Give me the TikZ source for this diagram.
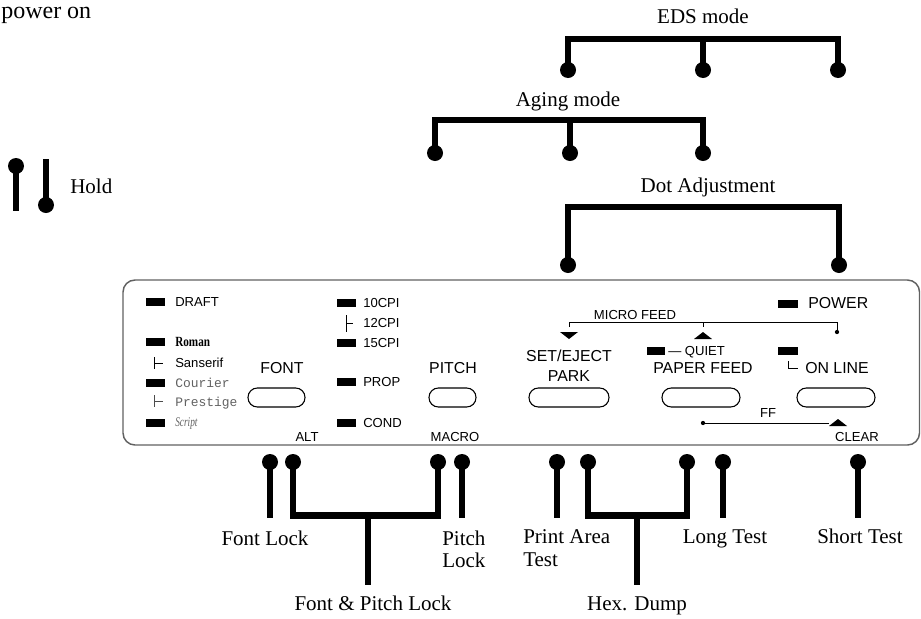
\documentclass[tikz,border=0pt]{standalone}
\usepackage{fontspec}
\setmainfont{Liberation Serif}
\setsansfont{Liberation Sans}
\setmonofont{Liberation Mono}
\newfontfamily\romanface[FakeStretch=0.8]{Liberation Serif}
\newfontfamily\scriptface[FakeStretch=0.7]{Liberation Serif}
\begin{document}
\begin{tikzpicture}[x=0.75pt,y=-0.75pt,
  bar/.style={line width=5pt, line join=miter},
  ball/.style={fill=black},
  lbl/.style={font=\fontsize{15.75}{19}\selectfont, inner sep=0pt},
  pnl/.style={font=\sffamily\fontsize{9.8}{11}\selectfont, inner sep=0pt, text height=.72em, text depth=0pt},
  big/.style={font=\sffamily\fontsize{11.9}{14}\selectfont, inner sep=0pt, text height=.72em, text depth=0pt},
  faded/.style={text=black!62},
  led/.style={fill=black},
  btn/.style={draw, line width=0.8pt, rounded corners=7pt},
  fine/.style={line width=0.7pt},
  panelframe/.style={draw=black!62, line width=1.1pt, rounded corners=9pt}]
\useasboundingbox (0,0) rectangle (921,618);

% ---------- title and legend ----------
\node[lbl, font=\fontsize{18}{22}\selectfont, anchor=base west] (pwr) at (1,18) {power on};
\coordinate (h1) at (16,166);
\coordinate (h1e) at (16,211);
\coordinate (h2) at (46,205);
\coordinate (h2e) at (46,159);
\draw[bar] (h1) -- (h1e);
\fill[ball] (h1) circle[radius=6pt];
\draw[bar] (h2) -- (h2e);
\fill[ball] (h2) circle[radius=6pt];
\node[lbl, anchor=base west] (hold) at (70,193) {Hold};

% ---------- EDS mode ----------
\node[lbl, anchor=base] (eds) at (703,23) {EDS mode};
\coordinate (e1) at (568,70);
\coordinate (e2) at (703,70);
\coordinate (e3) at (838,70);
\draw[bar] (e1) -- (568,39) -- (838,39) -- (e3);
\draw[bar] (703,39) -- (e2);
\foreach \p in {e1,e2,e3} \fill[ball] (\p) circle[radius=6pt];

% ---------- Aging mode ----------
\node[lbl, anchor=base] (aging) at (568,106) {Aging mode};
\coordinate (a1) at (435,153);
\coordinate (a2) at (570,153);
\coordinate (a3) at (703,153);
\draw[bar] (a1) -- (435,120) -- (703,120) -- (a3);
\draw[bar] (570,120) -- (a2);
\foreach \p in {a1,a2,a3} \fill[ball] (\p) circle[radius=6pt];

% ---------- Dot adjustment ----------
\node[lbl, anchor=base] (dotadj) at (708,192) {Dot Adjustment};
\coordinate (d1) at (568,265);
\coordinate (d2) at (839,265);
\draw[bar] (d1) -- (568,207) -- (839,207) -- (d2);
\foreach \p in {d1,d2} \fill[ball] (\p) circle[radius=6pt];

% ---------- control panel ----------
\draw[panelframe] (123,280) rectangle (919.5,445);

% font column
\fill[led] (146,298) rectangle (165,306);
\node[pnl, anchor=west] (draft) at (175,302) {DRAFT};
\fill[led] (146,338) rectangle (165,346);
\node[pnl, font=\romanface\bfseries\fontsize{10.5}{12}\selectfont, anchor=west] (roman) at (175,342) {Roman};
\draw[fine] (154,357) -- (154,369) (154,363) -- (163,363);
\node[pnl, anchor=west] (sans) at (175,363) {Sanserif};
\fill[led] (146,379) rectangle (165,387);
\node[pnl, faded, font=\ttfamily\fontsize{9.7}{11}\selectfont, anchor=west] (courier) at (175,383) {Courier};
\draw[fine, draw=black!70] (154,395) -- (154,407) (154,401) -- (163,401);
\node[pnl, faded, font=\ttfamily\fontsize{9.7}{11}\selectfont, anchor=west] (prestige) at (175,402) {Prestige};
\fill[led] (146,418.5) rectangle (165,426.5);
\node[pnl, faded, font=\scriptface\itshape\fontsize{10}{11}\selectfont, anchor=west] (script) at (175,422) {Script};

\node[big] (font) at (282,369) {FONT};
\draw[btn] (248,388) rectangle (305,407);
\node[pnl] (alt) at (307,437) {ALT};

% pitch column
\fill[led] (337,299) rectangle (356,307);
\node[pnl, anchor=west] (c10) at (363,303) {10CPI};
\draw[fine] (346,315) -- (346,332) (346,323) -- (353,323);
\node[pnl, anchor=west] (c12) at (363,323) {12CPI};
\fill[led] (337,339) rectangle (356,347);
\node[pnl, anchor=west] (c15) at (363,343) {15CPI};
\fill[led] (337,378) rectangle (356,386);
\node[pnl, anchor=west] (prop) at (363,382) {PROP};
\fill[led] (337,418.5) rectangle (356,426.5);
\node[pnl, anchor=west] (cond) at (363,423) {COND};

\node[big] (pitch) at (453,369) {PITCH};
\draw[btn] (429,388) rectangle (476,407);
\node[pnl] (macro) at (455,437) {MACRO};

% set/eject
\node[big] (setej) at (569,357) {SET/EJECT};
\node[big] (park) at (569,377) {PARK};
\draw[btn] (529,388) rectangle (609,407);

% micro feed bracket
\node[pnl] (micro) at (635,315) {MICRO FEED};
\coordinate (mfl) at (569,327);
\coordinate (mfm) at (703,327);
\coordinate (mfr) at (837,332);
\draw[fine] (mfl) -- (569,322) -- (837,322) -- (mfr);
\draw[fine] (703,322) -- (mfm);
\fill (mfr) circle[radius=1.6pt];
\fill (560,332) -- (578,332) -- (569,339) -- cycle;
\fill (694,339) -- (712,339) -- (703,332) -- cycle;

% paper feed
\fill[led] (647,347) rectangle (665,355);
\node[pnl, anchor=west] (quiet) at (668,351) {— QUIET};
\node[big] (pfeed) at (703,369) {PAPER FEED};
\draw[btn] (662,388) rectangle (740,407);

% power / on line
\fill[led] (778,299.5) rectangle (798,307.5);
\node[big, anchor=west] (power) at (808,304) {POWER};
\fill[led] (778,347) rectangle (798,355);
\draw[fine] (788,361) -- (788,368) -- (798,368);
\node[big, anchor=west] (online) at (805,369) {ON LINE};
\draw[btn] (797,388) rectangle (875,407);

% form feed / clear
\node[pnl] (ff) at (768,413) {FF};
\coordinate (ffl) at (703,423);
\coordinate (ffr) at (829,423);
\fill (ffl) circle[radius=1.6pt];
\draw[fine] (ffl) -- (ffr);
\fill (829,426) -- (847,426) -- (838,419) -- cycle;
\node[pnl] (clear) at (857,437) {CLEAR};

% ---------- key combinations at power on ----------
\coordinate (k1) at (270,462);
\coordinate (k2) at (293,462);
\coordinate (k3) at (438,462);
\coordinate (k4) at (462,462);
\coordinate (k5) at (557,462);
\coordinate (k6) at (588,462);
\coordinate (k7) at (687,462);
\coordinate (k8) at (723,462);
\coordinate (k9) at (858,462);

\draw[bar] (k1) -- (270,518);
\draw[bar] (k2) -- (293,515.5) -- (438,515.5) -- (k3);
\draw[bar] (368,515.5) -- (368,585);
\draw[bar] (k4) -- (462,518);
\draw[bar] (k5) -- (557,518);
\draw[bar] (k6) -- (588,515.5) -- (687,515.5) -- (k7);
\draw[bar] (637,515.5) -- (637,585);
\draw[bar] (k8) -- (723,518);
\draw[bar] (k9) -- (858,518);
\foreach \p in {k1,k2,k3,k4,k5,k6,k7,k8,k9} \fill[ball] (\p) circle[radius=6pt];

\node[lbl, anchor=base] (fontlock) at (265,545) {Font Lock};
\node[lbl, anchor=base west] (pitchlock1) at (442,545) {Pitch};
\node[lbl, anchor=base west] (pitchlock2) at (442,567) {Lock};
\node[lbl, anchor=base] (fplock) at (373,610) {Font \& Pitch Lock};
\node[lbl, anchor=base west] (parea1) at (523,543) {Print Area};
\node[lbl, anchor=base west] (parea2) at (523,566) {Test};
\node[lbl, anchor=base] (longtest) at (725,543) {Long Test};
\node[lbl, anchor=base west] (shorttest) at (817,543) {Short Test};
\node[lbl, anchor=base] (hexdump) at (637,610) {Hex. Dump};
\end{tikzpicture}
\end{document}
